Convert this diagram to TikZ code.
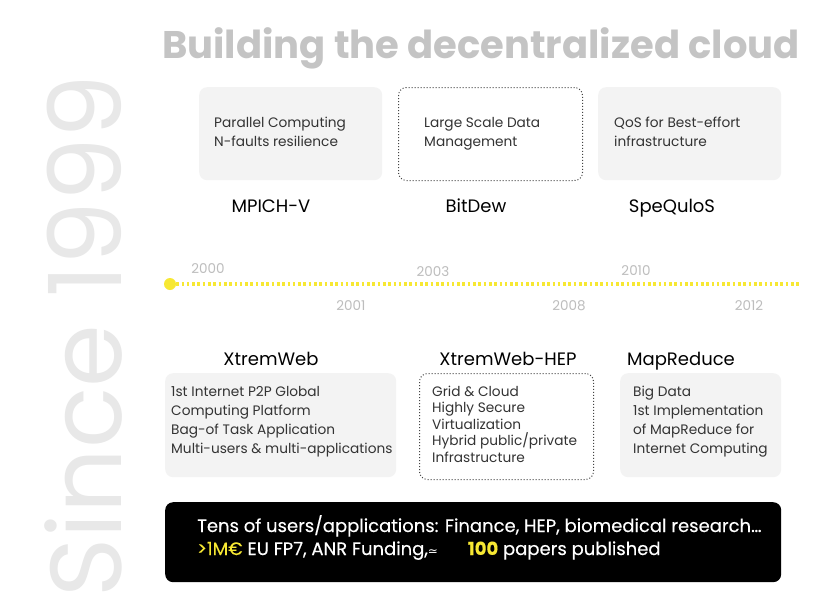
\documentclass[tikz,border=0pt]{standalone}
\usepackage{fontspec}
\setmainfont{Poppins}
\newfontfamily\symfont{DejaVu Sans}
\newfontfamily\medfont[FakeBold=0.3]{Poppins}
\definecolor{titlegray}{HTML}{C4C4C4}
\definecolor{sincegray}{HTML}{E8E8E8}
\definecolor{boxgray}{HTML}{F3F3F3}
\definecolor{txt}{HTML}{333333}
\definecolor{yeargray}{HTML}{BDBDBD}
\definecolor{tlyellow}{HTML}{F7E833}
\definecolor{dotgray}{HTML}{444444}
\begin{document}
\begin{tikzpicture}[x=1pt,y=-1pt,
  greybox/.style={fill=boxgray, draw=none, rounded corners=8pt, anchor=north west, inner sep=0pt},
  dotbox/.style={draw=dotgray, dotted, line width=1pt, rounded corners=8pt, fill=white, anchor=north west, inner sep=0pt},
  bodytext/.style={anchor=base west, align=left, inner sep=0pt, text=txt, font=\fontsize{13.7}{19}\selectfont},
  projlabel/.style={anchor=base, inner sep=0pt, text=black, font=\fontsize{18}{20}\selectfont},
  yearlabel/.style={anchor=base, inner sep=0pt, text=yeargray, font=\fontsize{13.5}{14}\selectfont}]
\useasboundingbox (0,0) rectangle (830,608);
\fill[white] (0,0) rectangle (830,608);
% title
\node[anchor=base, inner sep=0pt, text=titlegray, font=\fontsize{38.5}{40}\bfseries\selectfont] (title) at (481,58) {Building the decentralized cloud};
% since
\node[rotate=90, anchor=center, inner sep=0pt, text=sincegray, font=\fontsize{101}{110}\selectfont] (since) at (84,336) {Since 1999};
% top boxes
\node[greybox, minimum width=183pt, minimum height=93pt] (b1) at (199,87) {};
\node[dotbox, minimum width=184pt, minimum height=93pt] (b2) at (398,87) {};
\node[greybox, minimum width=183pt, minimum height=93pt] (b3) at (598,87) {};
% multi-line nodes: base anchor = baseline of last line
\node[bodytext] (t1) at (214,146) {Parallel Computing\\N-faults resilience};
\node[bodytext] (t2) at (424,146) {Large Scale Data\\Management};
\node[bodytext] (t3) at (614,146) {QoS for Best-effort\\infrastructure};
\node[projlabel] (n1) at (271,212) {MPICH-V};
\node[projlabel] (n2) at (476,212) {BitDew};
\node[projlabel] (n3) at (672,212) {SpeQuloS};
% timeline
\node[circle, fill=tlyellow, minimum size=12pt, inner sep=0pt] (dot) at (170,284) {};
\coordinate (tend) at (801,284);
\draw[tlyellow, line width=4.5pt, dash pattern=on 2.6pt off 2.7pt] (dot.east) -- (tend);
\node[yearlabel] (y2000) at (208,273) {2000};
\node[yearlabel] (y2003) at (433,276) {2003};
\node[yearlabel] (y2010) at (636,275) {2010};
\node[yearlabel] (y2001) at (351,310) {2001};
\node[yearlabel] (y2008) at (569,310) {2008};
\node[yearlabel] (y2012) at (749,310) {2012};
% bottom
\node[projlabel] (n4) at (271,365) {XtremWeb};
\node[projlabel] (n5) at (508,365) {XtremWeb-HEP};
\node[projlabel] (n6) at (681,365) {MapReduce};
\node[greybox, minimum width=231pt, minimum height=104pt] (b4) at (165,373) {};
\node[dotbox, minimum width=174pt, minimum height=106pt] (b5) at (419,373) {};
\node[greybox, minimum width=161pt, minimum height=104pt] (b6) at (620,373) {};
\node[bodytext] (t4) at (171,453) {1st Internet P2P Global\\Computing Platform\\Bag-of Task Application\\Multi-users \& multi-applications};
\node[bodytext, font=\fontsize{13.7}{16.6}\selectfont] (t5) at (432,462.4) {Grid \& Cloud\\Highly Secure\\Virtualization\\Hybrid public/private\\Infrastructure};
\node[bodytext] (t6) at (633,453) {Big Data\\1st Implementation\\of MapReduce for\\Internet Computing};
% black box
\node[fill=black, rounded corners=8pt, anchor=north west, inner sep=0pt, minimum width=616pt, minimum height=80pt] (bb) at (165,502) {};
\node[anchor=base west, align=left, inner sep=0pt, text=white, font=\fontsize{18}{23}\medfont] (bt) at (197,555) {Tens of users/applications: Finance, HEP, biomedical research…\\\textcolor{tlyellow}{>1M€} EU FP7, ANR Funding,{\symfont\fontsize{12}{12}\selectfont ≃}\hspace{30pt}\textcolor{tlyellow}{\bfseries 100} papers published};
\end{tikzpicture}
\end{document}
